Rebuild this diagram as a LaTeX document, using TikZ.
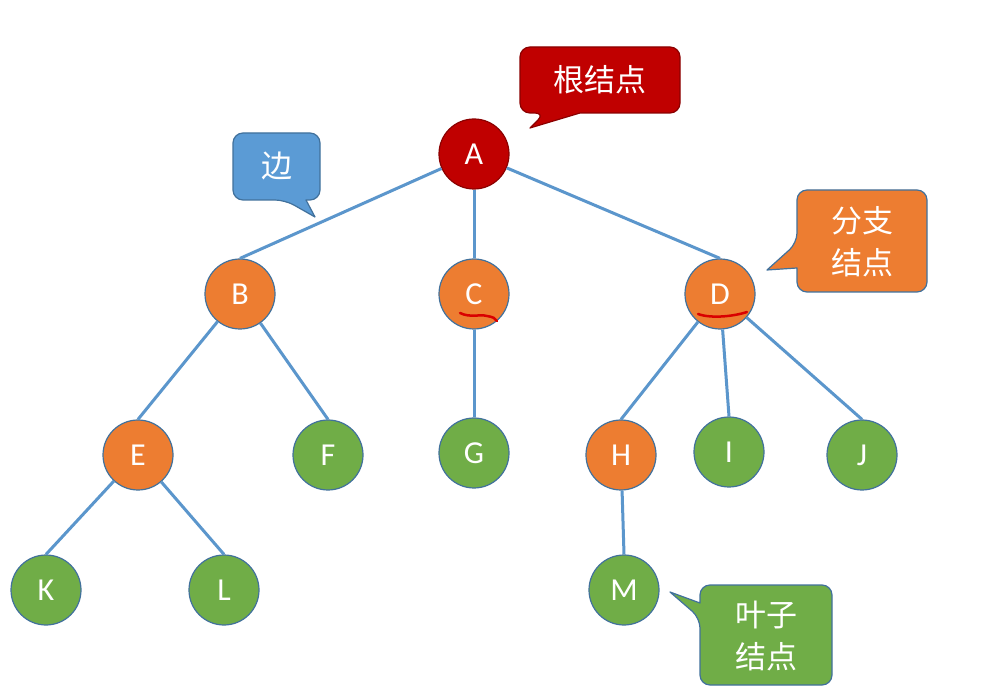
\documentclass[tikz,border=0pt]{standalone}
\usepackage{fontspec}
\setmainfont{Carlito}
\newfontfamily\cjk{Noto Sans CJK SC}
\definecolor{edgeblue}{HTML}{5B96CC}
\definecolor{rimblue}{HTML}{41719C}
\definecolor{rootred}{HTML}{C00000}
\definecolor{rootrim}{HTML}{8B0000}
\definecolor{midorange}{HTML}{ED7D31}
\definecolor{leafgreen}{HTML}{70AD47}
\definecolor{calloutblue}{HTML}{5B9BD5}
\tikzset{
  tnode/.style={circle, minimum size=70pt, inner sep=0pt, draw=rimblue, line width=1.2pt, text=white, font=\fontsize{32}{32}\selectfont},
  rootnode/.style={tnode, fill=rootred, draw=rootrim},
  midnode/.style={tnode, fill=midorange},
  leafnode/.style={tnode, fill=leafgreen},
  tedge/.style={draw=edgeblue, line width=3pt},
  callout/.style={line width=1.2pt, line join=round},
  ctext/.style={text=white, font=\cjk\fontsize{31}{42}\selectfont, align=center, inner sep=0pt}
}
\begin{document}
\begin{tikzpicture}[x=1pt,y=-1pt]
\useasboundingbox[fill=white] (0,0) rectangle (986,700);

\node[rootnode] (A) at (474,154) {A};
\node[midnode] (B) at (240,294) {B};
\node[midnode] (C) at (474,294) {C};
\node[midnode] (D) at (720,294) {D};
\node[midnode] (E) at (138,455) {E};
\node[leafnode] (F) at (328,455) {F};
\node[leafnode] (G) at (474,453) {G};
\node[midnode] (H) at (621,455) {H};
\node[leafnode] (I) at (729,452) {I};
\node[leafnode] (J) at (862,455) {J};
\node[leafnode] (K) at (46,590) {K};
\node[leafnode] (L) at (224,590) {L};
\node[leafnode] (M) at (624,590) {M};

\draw[tedge] (A) -- (B.north);
\draw[tedge] (A) -- (C.north);
\draw[tedge] (A) -- (D.north);
\draw[tedge] (B) -- (E.north);
\draw[tedge] (B) -- (F.north);
\draw[tedge] (C) -- (G.north);
\draw[tedge] (D) -- (H.north);
\draw[tedge] (D) -- (I.north);
\draw[tedge] (D) -- (J.north);
\draw[tedge] (E) -- (K.north);
\draw[tedge] (E) -- (L.north);
\draw[tedge] (H) -- (M.north);

% red hand marks
\draw[red!85!black, line width=2.5pt, line cap=round] (460,313) .. controls (470,318) and (480,314) .. (487,316) .. controls (493,317) and (495,318) .. (497,321);
\draw[red!85!black, line width=2.5pt, line cap=round] (698,314) .. controls (712,319) and (735,316) .. (747,312);

% callout: root
\draw[callout, fill=rootred, draw=rootrim] (545,113) -- (530,128) -- (580,113) [rounded corners=10pt] -- (680,113) -- (680,47) -- (520,47) -- (520,113) -- cycle;
\node[ctext] (t1) at (600,80) {根结点};

% callout: edge
\draw[callout, fill=calloutblue, draw=rimblue] (285,200) -- (315,217) -- (306,200) [rounded corners=10pt] -- (320,200) -- (320,133) -- (233,133) -- (233,200) -- cycle;
\node[ctext] (t2) at (277,166) {边};

% callout: branch
\draw[callout, fill=midorange, draw=rimblue] (797,243) -- (767,270) -- (797,268) [rounded corners=10pt] -- (797,292) -- (927,292) -- (927,190) -- (797,190) -- cycle;
\node[ctext] (t3) at (862,242) {分支\\结点};

% callout: leaf
\draw[callout, fill=leafgreen, draw=rimblue] (700,618) -- (670,592) -- (700,603) [rounded corners=10pt] -- (700,585) -- (832,585) -- (832,685) -- (700,685) -- cycle;
\node[ctext] (t4) at (766,636) {叶子\\结点};
\end{tikzpicture}
\end{document}
